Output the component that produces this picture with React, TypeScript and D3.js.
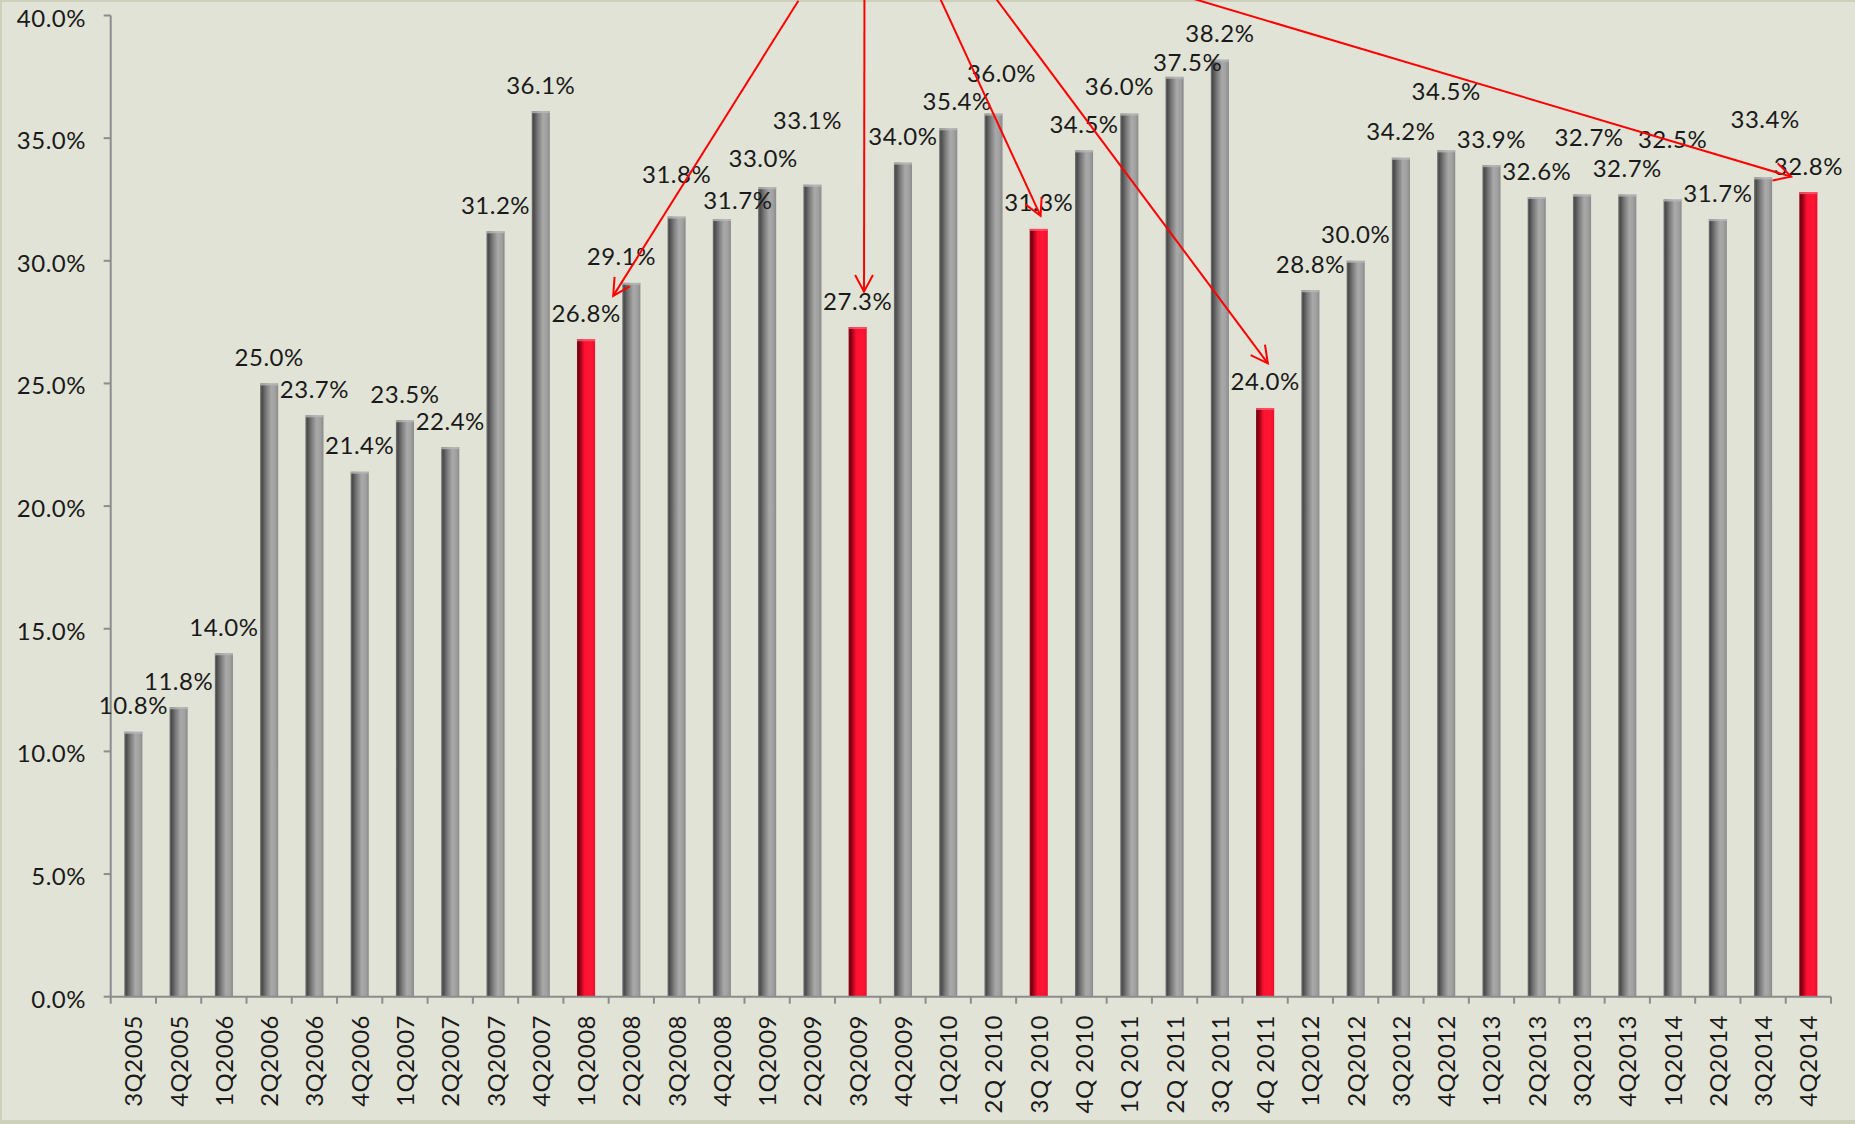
import React from "react";
import { scaleBand, scaleLinear } from "d3";

const categories = [
  "3Q2005", "4Q2005", "1Q2006", "2Q2006", "3Q2006", "4Q2006", "1Q2007", "2Q2007",
  "3Q2007", "4Q2007", "1Q2008", "2Q2008", "3Q2008", "4Q2008", "1Q2009", "2Q2009",
  "3Q2009", "4Q2009", "1Q2010", "2Q 2010", "3Q 2010", "4Q 2010", "1Q 2011", "2Q 2011",
  "3Q 2011", "4Q 2011", "1Q2012", "2Q2012", "3Q2012", "4Q2012", "1Q2013", "2Q2013",
  "3Q2013", "4Q2013", "1Q2014", "2Q2014", "3Q2014", "4Q2014",
];

const values = [
  10.8, 11.8, 14.0, 25.0, 23.7, 21.4, 23.5, 22.4,
  31.2, 36.1, 26.8, 29.1, 31.8, 31.7, 33.0, 33.1,
  27.3, 34.0, 35.4, 36.0, 31.3, 34.5, 36.0, 37.5,
  38.2, 24.0, 28.8, 30.0, 34.2, 34.5, 33.9, 32.6,
  32.7, 32.7, 32.5, 31.7, 33.4, 32.8,
];

// quarters shown in red
const highlighted = ["1Q2008", "3Q2009", "3Q 2010", "4Q 2011", "4Q2014"];

const yTicks = [0, 5, 10, 15, 20, 25, 30, 35, 40];

// manually moved data labels (pixel nudges from the default spot above the bar)
const labelNudges: Record<string, [number, number]> = {
  "2Q2008": [-10, 0],
  "3Q2008": [0, -16],
  "4Q2008": [16, 7],
  "1Q2009": [-4, -3],
  "2Q2009": [-5, -38],
  "1Q2010": [9, -1],
  "2Q 2010": [8, -14],
  "1Q 2011": [-10, -1],
  "2Q 2011": [13, 12],
  "4Q2012": [0, -33],
  "3Q2013": [7, -31],
  "1Q2014": [0, -34],
  "3Q2014": [2, -32],
};

// arrows from the (cropped) callout above the chart, in data space: [index, value]
const arrowStarts = [[14.69, 40.6], [16.15, 40.7], [17.82, 40.7], [19.05, 40.7], [23.38, 40.7]];
const arrowTips = [[10.6, 28.57], [16.14, 28.74], [20.04, 31.83], [25.06, 25.82], [36.62, 33.43]];

const W = 1855;
const H = 1124;
const FONT = "Lato, 'Open Sans', sans-serif";
const SPACING = 0.5;

export default function App() {
  const x0 = 110.7;
  const x1 = 1831;
  const x = scaleBand<string>().domain(categories).range([x0, x1]).paddingInner(0.6).paddingOuter(0.3);
  const y = scaleLinear().domain([0, 40]).range([996.7, 15.5]);
  const step = x.step();
  const bw = x.bandwidth();
  // continuous position for annotations
  const xi = (i: number) => x0 + step * (i + 0.5);

  const boundaries = categories.map((_, i) => x0 + i * step).concat([x1]);

  const arm = 19;
  const half = (28 * Math.PI) / 180;

  return (
    <svg width={W} height={H} style={{ position: "absolute", left: 0, top: 0, display: "block" }}>
      <defs>
        <linearGradient id="gray" x1="0" x2="1" y1="0" y2="0">
          <stop offset="0" stopColor="#7a7a7a" />
          <stop offset="0.1" stopColor="#4a4a4a" />
          <stop offset="0.35" stopColor="#7c7c7c" />
          <stop offset="0.62" stopColor="#a9a9a9" />
          <stop offset="0.82" stopColor="#a1a1a1" />
          <stop offset="1" stopColor="#8a8a8a" />
        </linearGradient>
        <linearGradient id="red" x1="0" x2="1" y1="0" y2="0">
          <stop offset="0" stopColor="#9a0018" />
          <stop offset="0.1" stopColor="#760010" />
          <stop offset="0.42" stopColor="#ff1030" />
          <stop offset="0.75" stopColor="#ff1535" />
          <stop offset="1" stopColor="#ea102e" />
        </linearGradient>
      </defs>

      <rect x={0} y={0} width={W} height={H} fill="#e1e3d6" />
      <rect x={0} y={0} width={W} height={2} fill="#cdd0ba" />
      <rect x={0} y={0} width={2} height={H} fill="#cdd0ba" />
      <rect x={0} y={H - 4} width={W} height={4} fill="#cdd0ba" />

      {/* y axis */}
      <line x1={x0} x2={x0} y1={y(40)} y2={y(0)} stroke="#8c8c8c" strokeWidth={2} />
      {yTicks.map((t) => (
        <g key={t}>
          <line x1={x0 - 7} x2={x0} y1={y(t)} y2={y(t)} stroke="#8c8c8c" strokeWidth={2} />
          <text x={86} y={y(t) + 11} textAnchor="end" fontFamily={FONT} fontSize={24}
            letterSpacing={SPACING} fill="#1a1a1a">
            {t.toFixed(1)}%
          </text>
        </g>
      ))}

      {/* bars */}
      {categories.map((c, i) => {
        const v = values[i];
        const red = highlighted.includes(c);
        const bx = x(c)!;
        const by = y(v);
        return (
          <g key={c}>
            <rect x={bx} y={by} width={bw} height={y(0) - by} fill={red ? "url(#red)" : "url(#gray)"} />
            <rect x={bx} y={by} width={bw} height={2} fill={red ? "#ff5a6e" : "#b8b8b8"} opacity={0.8} />
          </g>
        );
      })}

      {/* x axis */}
      <line x1={x0} x2={x1} y1={y(0)} y2={y(0)} stroke="#8c8c8c" strokeWidth={2} />
      {boundaries.map((b, i) => (
        <line key={i} x1={b} x2={b} y1={y(0)} y2={y(0) + 7} stroke="#8c8c8c" strokeWidth={2} />
      ))}
      {categories.map((c) => {
        const cx = x(c)! + bw / 2 + 9;
        return (
          <text
            key={c}
            transform={`translate(${cx},1015) rotate(-90)`}
            textAnchor="end"
            fontFamily={FONT}
            fontSize={24}
            letterSpacing={SPACING}
            fill="#1a1a1a"
          >
            {c}
          </text>
        );
      })}

      {/* data labels */}
      {categories.map((c, i) => {
        const v = values[i];
        const [dx, dy] = labelNudges[c] || [0, 0];
        return (
          <text
            key={c}
            x={x(c)! + bw / 2 + dx}
            y={y(v) - 17.5 + dy}
            textAnchor="middle"
            fontFamily={FONT}
            fontSize={24}
            letterSpacing={SPACING}
            fill="#1a1a1a"
          >
            {v.toFixed(1)}%
          </text>
        );
      })}

      {/* arrows */}
      {arrowStarts.map((s, k) => {
        const t = arrowTips[k];
        const sx = xi(s[0]);
        const sy = y(s[1]);
        const tx = xi(t[0]);
        const ty = y(t[1]);
        const ang = Math.atan2(sy - ty, sx - tx);
        const a1 = [tx + arm * Math.cos(ang + half), ty + arm * Math.sin(ang + half)];
        const a2 = [tx + arm * Math.cos(ang - half), ty + arm * Math.sin(ang - half)];
        return (
          <g key={k} stroke="#ff0000" strokeWidth={2} fill="none">
            <line x1={sx} y1={sy} x2={tx} y2={ty} />
            <path d={`M${a1[0]},${a1[1]} L${tx},${ty} L${a2[0]},${a2[1]}`} />
          </g>
        );
      })}
    </svg>
  );
}
